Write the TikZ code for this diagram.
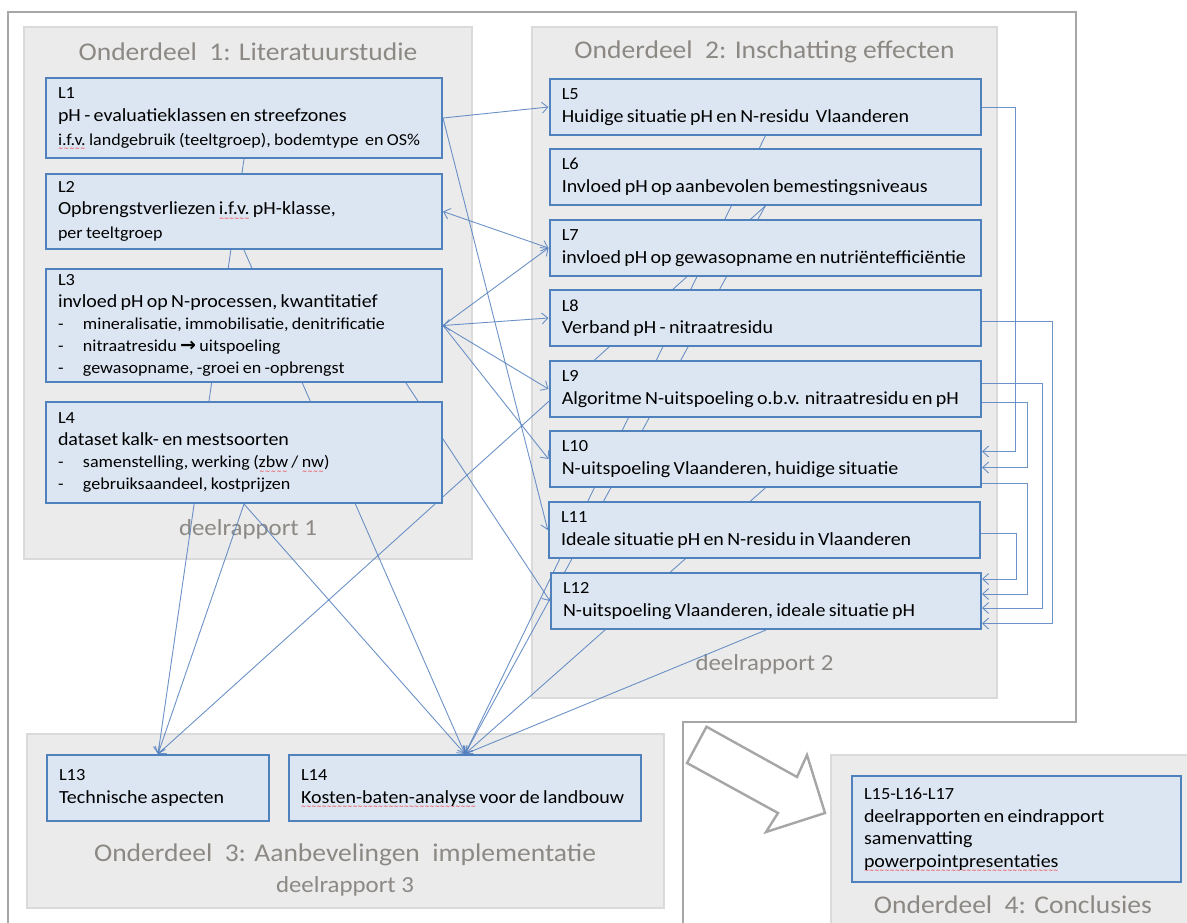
\documentclass[tikz,border=0pt]{standalone}
\usepackage{fontspec}
\setmainfont{Carlito}[FakeStretch=1.08]
\newfontfamily\dejavu{DejaVu Sans}
\usetikzlibrary{arrows.meta,calc}
\definecolor{boxfill}{HTML}{DCE6F2}
\definecolor{boxline}{HTML}{4F81BD}
\definecolor{grpfill}{HTML}{EBEBEB}
\definecolor{grpline}{HTML}{DADADA}
\definecolor{ttlc}{RGB}{140,137,133}
\definecolor{framec}{HTML}{A6A6A6}
\definecolor{connc}{RGB}{84,128,190}
\newsavebox\sqbox
\newcommand\squig[1]{\leavevmode\sbox\sqbox{#1}\rlap{\raisebox{-5.5pt}[0pt][0pt]{\textcolor{red}{\hbox to \wd\sqbox{\dejavu\fontsize{6}{6}\selectfont\xleaders\hbox{∼}\hfill}}}}\usebox\sqbox}
\newcommand\lab[1]{{\fontsize{17}{22}\selectfont #1\par}}
\newcommand\mn[1]{{\fontsize{18.5}{22.5}\selectfont #1\par}}
\newcommand\sbl[1]{{\fontsize{16.7}{24}\selectfont #1\par}}
\newcommand\itm[1]{{\fontsize{16.7}{22}\selectfont\makebox[25pt][l]{-}#1\par}}
\pgfdeclarelayer{bg}
\pgfdeclarelayer{grp}
\pgfdeclarelayer{lines}
\pgfsetlayers{bg,grp,lines,main}
\begin{document}
\begin{tikzpicture}[x=1pt,y=-1pt,
  grp/.style={draw=grpline,line width=1.6pt,fill=grpfill},
  ttl/.style={text=ttlc,font=\fontsize{25.5}{28}\selectfont,inner sep=0pt},
  drp/.style={text=ttlc,font=\fontsize{23}{26}\selectfont,inner sep=0pt},
  box/.style={draw=boxline,line width=2pt,fill=boxfill,rectangle,inner xsep=12pt,inner ysep=0pt,align=left},
  lbox/.style={box,minimum width=396pt,text width=372pt},
  rbox/.style={box,minimum width=431.5pt,minimum height=56pt,text width=407pt},
  conn/.style={draw=connc,line width=0.9pt,opacity=0.85,-{Straight Barb[length=6pt,width=11pt]}},
  conn2/.style={draw=connc,line width=0.9pt,opacity=0.85,{Straight Barb[length=6pt,width=11pt]}-{Straight Barb[length=6pt,width=11pt]}},
  frm/.style={draw=framec,line width=2.6pt}
]
\useasboundingbox (0,0) rectangle (1187,922);
\begin{pgfonlayer}{bg}
\fill[white] (0,0) rectangle (1187,922);
\end{pgfonlayer}

% outer frame
\draw[frm] (8,925) -- (8,12) -- (1076,12) -- (1076,722) -- (683,722) -- (683,925);

% groups
\begin{pgfonlayer}{grp}
\draw[grp] (24,27) rectangle (472,559);
\draw[grp] (532,27) rectangle (997,698);
\draw[grp] (27,734) rectangle (664,908);
\draw[grp] (831,755) rectangle (1195,930);
\node[ttl] (t1) at (248,52) {Onderdeel~~1: Literatuurstudie};
\node[ttl] (t2) at (764.5,52) {Onderdeel~~2: Inschatting effecten};
\node[drp] (d1) at (248,529) {deelrapport 1};
\node[drp] (d2) at (764.5,664) {deelrapport 2};
\node[ttl] (t3) at (345,855) {Onderdeel~~3: Aanbevelingen~~implementatie};
\node[drp] (d3) at (345,886) {deelrapport 3};
\node[ttl] (t4) at (1013,905) {Onderdeel~~4: Conclusies};
\end{pgfonlayer}

% boxes
\node[lbox,minimum height=80pt] (L1) at (244,118) {\lab{L1}\mn{pH - evaluatieklassen en streefzones}\sbl{\squig{i.f.v.} landgebruik (teeltgroep), bodemtype~~en OS\%}};
\node[lbox,minimum height=75pt] (L2) at (244,211.5) {\lab{L2}\mn{Opbrengstverliezen \squig{i.f.v.} pH-klasse,}\sbl{per teeltgroep}};
\node[lbox,minimum height=113pt] (L3) at (244,325.5) {\lab{L3}\mn{invloed pH op N-processen, kwantitatief}\itm{mineralisatie, immobilisatie, denitrificatie}\itm{nitraatresidu {\dejavu\bfseries\fontsize{19}{22}\selectfont →} uitspoeling}\itm{gewasopname, -groei en -opbrengst}};
\node[lbox,minimum height=101pt] (L4) at (244,452.5) {\lab{L4}\mn{dataset kalk- en mestsoorten}\itm{samenstelling, werking (\squig{zbw} / \squig{nw})}\itm{gebruiksaandeel, kostprijzen}};

\node[rbox] (L5) at (765.25,107) {\lab{L5}\mn{Huidige situatie pH en N-residu~~Vlaanderen}};
\node[rbox] (L6) at (765.25,177) {\lab{L6}\mn{Invloed pH op aanbevolen bemestingsniveaus}};
\node[rbox] (L7) at (765.25,248) {\lab{L7}\mn{invloed pH op gewasopname en nutriëntefficiëntie}};
\node[rbox] (L8) at (765.25,318) {\lab{L8}\mn{Verband pH - nitraatresidu}};
\node[rbox] (L9) at (765.25,389) {\lab{L9}\mn{Algoritme N-uitspoeling o.b.v. nitraatresidu en pH}};
\node[rbox] (L10) at (765.25,459) {\lab{L10}\mn{N-uitspoeling Vlaanderen, huidige situatie}};
\node[rbox] (L11) at (764.5,530) {\lab{L11}\mn{Ideale situatie pH en N-residu in Vlaanderen}};
\node[rbox,minimum width=430pt,text width=406pt] (L12) at (766,601) {\lab{L12}\mn{N-uitspoeling Vlaanderen, ideale situatie pH}};

\node[box,minimum width=222pt,minimum height=66pt,text width=198pt] (L13) at (158,788) {\lab{L13}\mn{Technische aspecten}};
\node[box,minimum width=352pt,minimum height=66pt,text width=328pt] (L14) at (465,788) {\lab{L14}\mn{\squig{Kosten-baten-analyse} voor de landbouw}};
\node[box,minimum width=329pt,minimum height=106pt,text width=305pt] (L15) at (1016.5,829) {\lab{L15-L16-L17}\mn{deelrapporten en eindrapport}\mn{samenvatting}\mn{\squig{powerpointpresentaties}}};

% block arrow
\draw[draw=framec,line width=2.4pt,fill=white,line join=miter] (706.5,726.7) -- (797,777) -- (807,755) -- (825,813) -- (766,832) -- (778,813) -- (687,763) -- cycle;

% connectors
\begin{pgfonlayer}{lines}
\draw[conn] (L1.east) -- (L5.west);
\draw[conn] (L1.east) -- (L11.west);
\draw[conn2] (L2.east) -- (L7.west);
\draw[conn] (L3.east) -- (L7.west);
\draw[conn2] (L3.east) -- (L8.west);
\draw[conn] (L3.east) -- (L9.west);
\draw[conn] (L3.east) -- (L10.west);
\draw[conn] ($(L3.center)+(124,0)$) -- (L12.west);
\draw[conn] (L1.south) -- (L13.north);
\draw[conn] (L4.south) -- (L13.north);
\draw[conn] (L6.south) -- (L13.north);
\draw[conn] (L2.south) -- (L14.north);
\draw[conn] (L4.south) -- (L14.north);
\draw[conn] (L5.south) -- (L14.north);
\draw[conn] (L6.south) -- (L14.north);
\draw[conn] (L10.south) -- (L14.north);
\draw[conn] (L12.south) -- (L14.north);
% elbow connectors on the right
\draw[conn] (L5.east) -- (1015,107) |- ($(L10.east)+(0,-7.5)$);
\draw[conn] ($(L8.east)+(0,3)$) -- (1052,321) |- ($(L12.east)+(0,22.5)$);
\draw[conn] ($(L9.east)+(0,-6)$) -- (1042,383) |- ($(L12.east)+(0,7)$);
\draw[conn] ($(L9.east)+(0,13.5)$) -- (1027,402.5) |- ($(L10.east)+(0,8.5)$);
\draw[conn] ($(L10.east)+(0,24)$) -- (1027,483) |- ($(L12.east)+(0,-7)$);
\draw[conn] ($(L11.east)+(0,3.5)$) -- (1016,533.5) |- ($(L12.east)+(0,-22)$);
\end{pgfonlayer}
\end{tikzpicture}
\end{document}
